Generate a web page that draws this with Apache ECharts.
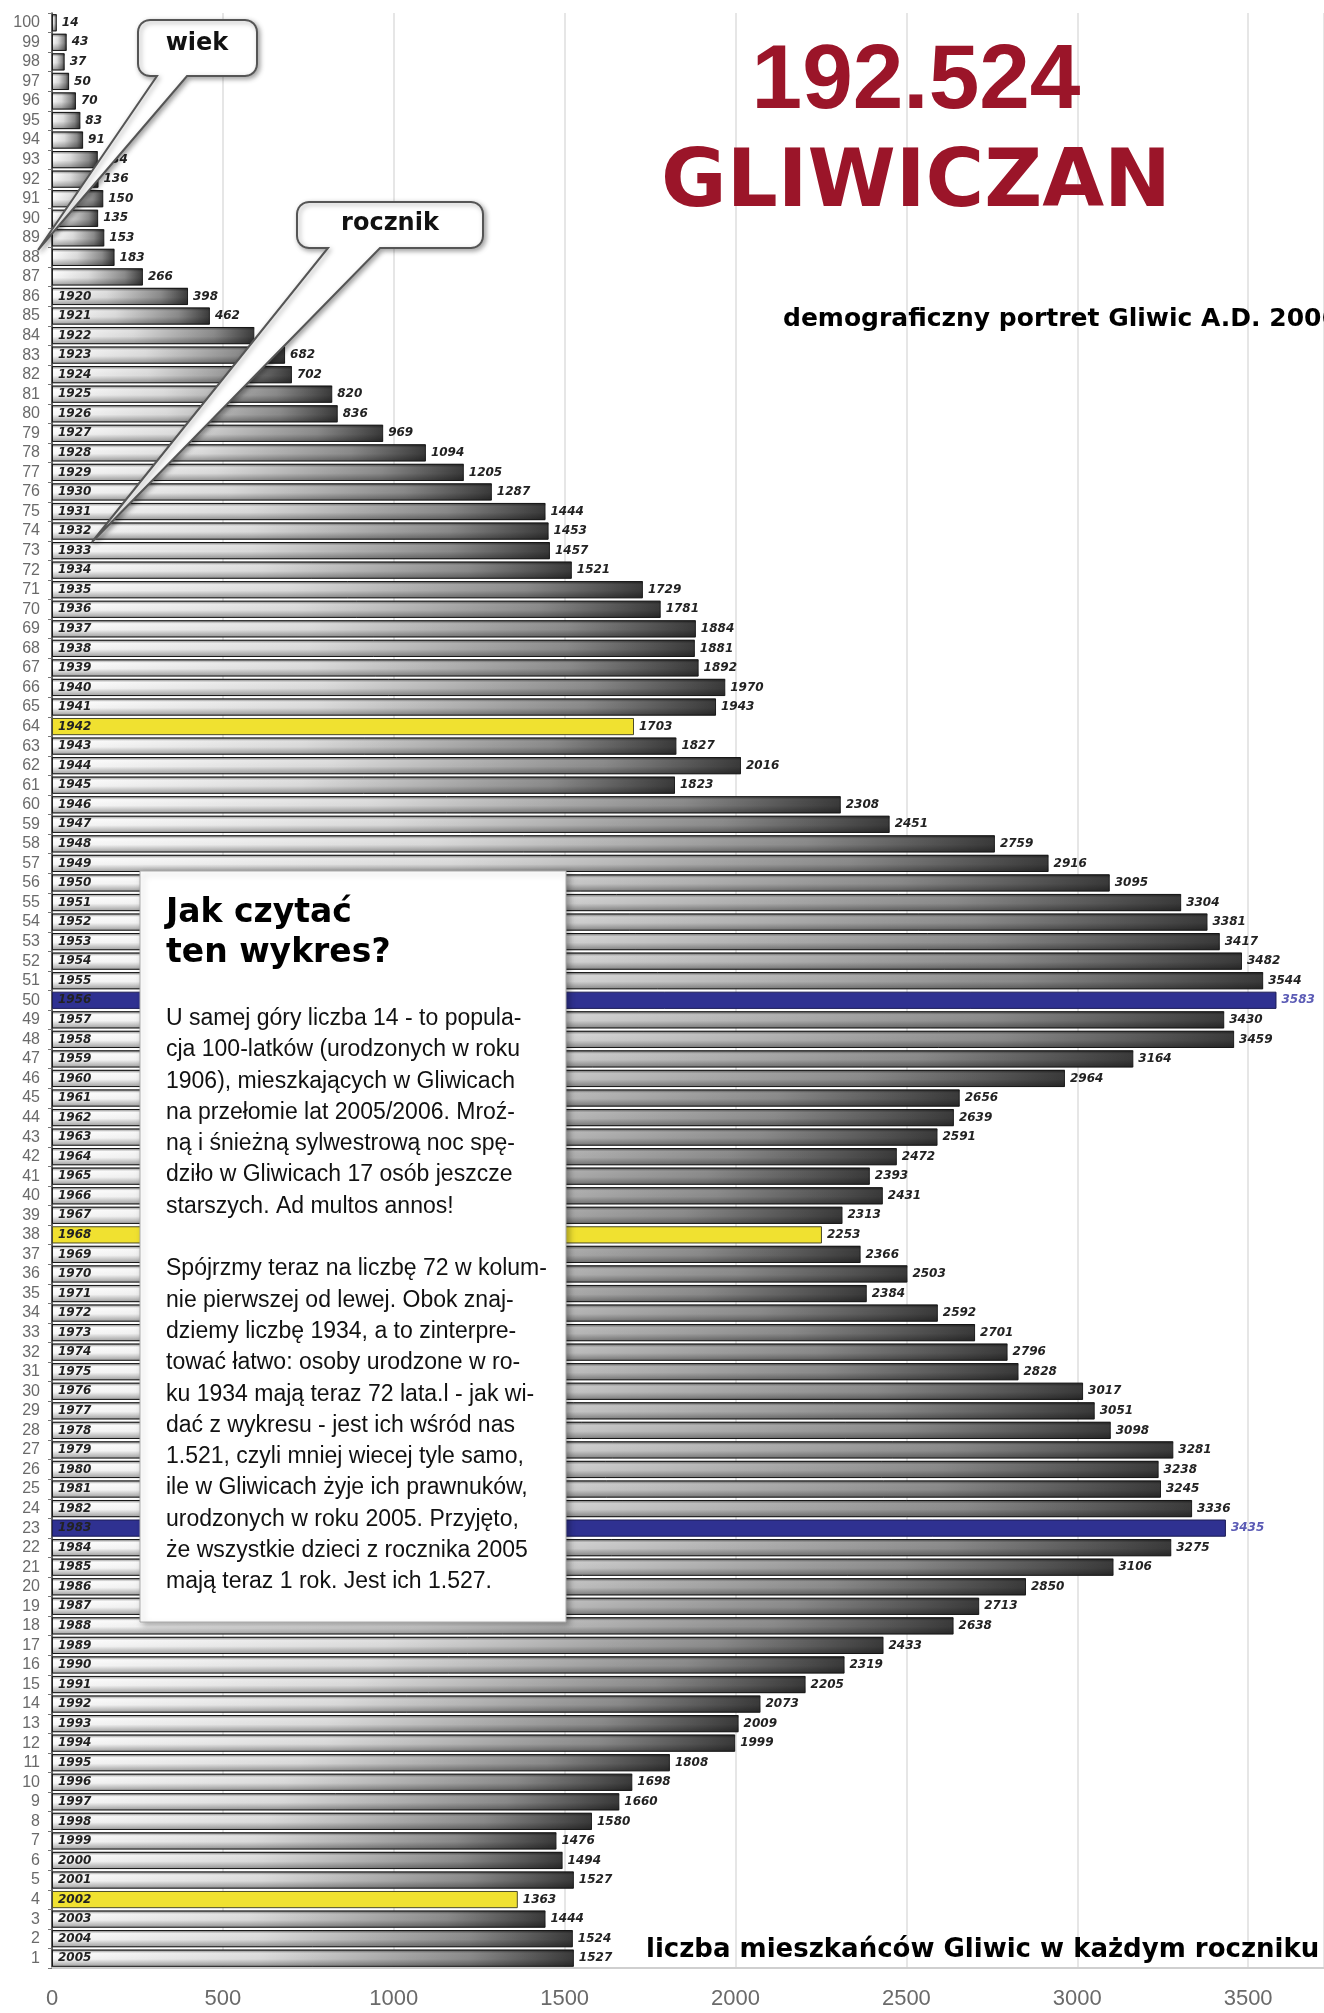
<!DOCTYPE html>
<html><head><meta charset="utf-8">
<script src="https://cdn.jsdelivr.net/npm/echarts@6/dist/echarts.min.js"></script>
<style>html,body{margin:0;padding:0;background:#fff}#c{width:1324px;height:2013px}</style>
</head><body><div id="c"></div>
<script>
// wiek (age) categories, bottom to top
const ages = [1,2,3,4,5,6,7,8,9,10,11,12,13,14,15,16,17,18,19,20,
  21,22,23,24,25,26,27,28,29,30,31,32,33,34,35,36,37,38,39,40,
  41,42,43,44,45,46,47,48,49,50,51,52,53,54,55,56,57,58,59,60,
  61,62,63,64,65,66,67,68,69,70,71,72,73,74,75,76,77,78,79,80,
  81,82,83,84,85,86,87,88,89,90,91,92,93,94,95,96,97,98,99,100];
// liczba mieszkańców w każdym roczniku (by age 1..100)
const values = [1527,1524,1444,1363,1527,1494,1476,1580,1660,1698,
  1808,1999,2009,2073,2205,2319,2433,2638,2713,2850,
  3106,3275,3435,3336,3245,3238,3281,3098,3051,3017,
  2828,2796,2701,2592,2384,2503,2366,2253,2313,2431,
  2393,2472,2591,2639,2656,2964,3164,3459,3430,3583,
  3544,3482,3417,3381,3304,3095,2916,2759,2451,2308,
  1823,2016,1827,1703,1943,1970,1892,1881,1884,1781,
  1729,1521,1457,1453,1444,1287,1205,1094,969,836,
  820,702,682,592,462,398,266,183,153,135,
  150,136,134,91,83,70,50,37,43,14];
// rocznik (birth year) labels shown inside bars
const years = ['2005','2004','2003','2002','2001','2000','1999','1998','1997','1996',
  '1995','1994','1993','1992','1991','1990','1989','1988','1987','1986',
  '1985','1984','1983','1982','1981','1980','1979','1978','1977','1976',
  '1975','1974','1973','1972','1971','1970','1969','1968','1967','1966',
  '1965','1964','1963','1962','1961','1960','1959','1958','1957','1956',
  '1955','1954','1953','1952','1951','1950','1949','1948','1947','1946',
  '1945','1944','1943','1942','1941','1940','1939','1938','1937','1936',
  '1935','1934','1933','1932','1931','1930','1929','1928','1927','1926',
  '1925','1924','1923','1922','1921','1920','','','','',
  '','','','','','','','','',''];
const xTicks = [0,500,1000,1500,2000,2500,3000,3500];
const yellowAges = [4,38,64];
const blueAges = [23,50];

const mainData = values.map((v,i)=>{
  const a = ages[i];
  const it = {value:v};
  if (yellowAges.includes(a)) it.itemStyle = {color:'#f0e130', borderColor:'#4a4a2a'};
  else if (blueAges.includes(a)) { it.itemStyle = {color:'#2f3191', borderColor:'#1c1c55'}; it.label = {color:'#5b5bb5'}; }
  return it;
});
const overlayData = values.map((v,i)=>{
  const a = ages[i];
  const it = {value:v};
  if (yellowAges.includes(a) || blueAges.includes(a)) it.itemStyle = {color:'rgba(0,0,0,0)'};
  return it;
});

function bubblePoints(x0,y0,x1,y1,r,nl,nr,tx,ty){
  const pts=[];
  const arc=(cx,cy,a0,a1)=>{for(let k=0;k<=6;k++){const a=a0+(a1-a0)*k/6;pts.push([cx+r*Math.cos(a),cy+r*Math.sin(a)]);}};
  arc(x0+r,y0+r,Math.PI,1.5*Math.PI);
  arc(x1-r,y0+r,1.5*Math.PI,2*Math.PI);
  arc(x1-r,y1-r,0,0.5*Math.PI);
  pts.push([nr,y1],[tx,ty],[nl,y1]);
  arc(x0+r,y1-r,0.5*Math.PI,Math.PI);
  return pts;
}
function txt(x,y,text,font,fill,align,valign,extra){
  return Object.assign({type:'text',x:x,y:y,z:120,silent:true,style:Object.assign({
    text:text,font:font,fill:fill,textAlign:align,textVerticalAlign:valign,align:align,verticalAlign:valign
  },extra||{})});
}
const bubbleStyle = {fill:'#fff',stroke:'#555',lineWidth:2,shadowBlur:5,shadowColor:'rgba(0,0,0,0.35)',shadowOffsetX:2,shadowOffsetY:2};

const para = 'U samej góry liczba 14 - to popula-\ncja 100-latków (urodzonych w roku\n1906), mieszkających w Gliwicach\nna przełomie lat 2005/2006. Mroź-\nną i śnieżną sylwestrową noc spę-\ndziło w Gliwicach 17 osób jeszcze\nstarszych. Ad multos annos!\n\nSpójrzmy teraz na liczbę 72 w kolum-\nnie pierwszej od lewej. Obok znaj-\ndziemy liczbę 1934, a to zinterpre-\ntować łatwo: osoby urodzone w ro-\nku 1934 mają teraz 72 lata.l - jak wi-\ndać z wykresu - jest ich wśród nas\n1.521, czyli mniej wiecej tyle samo,\nile w Gliwicach żyje ich prawnuków,\nurodzonych w roku 2005. Przyjęto,\nże wszystkie dzieci z rocznika 2005\nmają teraz 1 rok. Jest ich 1.527.';

const chart = echarts.init(document.getElementById('c'), null, {renderer:'canvas'});
chart.setOption({
  backgroundColor:'#ffffff',
  animation:false,
  grid:{left:52,right:0,top:13,bottom:45,containLabel:false},
  xAxis:{type:'value',min:0,max:3722,interval:500,
    axisLine:{show:true,lineStyle:{color:'#cfcfcf',width:2}},
    axisTick:{show:false},
    axisLabel:{color:'#6a6a6a',fontSize:22,margin:20,fontFamily:'Liberation Sans',showMaxLabel:false,
      formatter:v=> xTicks.includes(v) ? String(v) : ''},
    splitLine:{show:true,lineStyle:{color:'#e6e6e6',width:2}}
  },
  yAxis:{type:'category',data:ages,
    axisLine:{show:true,lineStyle:{color:'#333',width:1.5}},
    axisTick:{show:true,length:4,interval:0,lineStyle:{color:'#777'}},
    axisLabel:{interval:0,color:'#6a6a6a',fontSize:16,margin:12,fontFamily:'Liberation Sans'}
  },
  series:[
    {type:'bar',data:mainData,barCategoryGap:'12%',
      itemStyle:{borderColor:'#222',borderWidth:1,
        color:new echarts.graphic.LinearGradient(0,0,1,0,[
          {offset:0,color:'#ffffff'},{offset:0.4,color:'#dedede'},{offset:0.8,color:'#8c8c8c'},{offset:1,color:'#3a3a3a'}])},
      label:{show:true,position:'right',distance:5,color:'#222',fontSize:12,fontWeight:'bold',fontStyle:'italic',fontFamily:'DejaVu Sans'}
    },
    {type:'bar',data:overlayData,barGap:'-100%',barCategoryGap:'12%',silent:true,
      itemStyle:{color:new echarts.graphic.LinearGradient(0,0,0,1,[
          {offset:0,color:'rgba(0,0,0,0.5)'},{offset:0.2,color:'rgba(0,0,0,0)'},{offset:0.55,color:'rgba(0,0,0,0.03)'},{offset:1,color:'rgba(0,0,0,0.38)'}])},
      label:{show:true,position:'insideLeft',distance:6,color:'#222',fontSize:12,fontWeight:'bold',fontStyle:'italic',fontFamily:'DejaVu Sans',
        formatter:p=>years[p.dataIndex]}
    }
  ],
  graphic:[
    txt(916,83,'192.524','bold 91px "Liberation Sans"','#9b1529','center','middle'),
    txt(916,185,'GLIWICZAN','bold 80px "DejaVu Sans"','#9b1529','center','middle'),
    txt(783,319,'demograficzny portret Gliwic A.D. 2006','bold 25px "DejaVu Sans"','#000','left','middle'),
    txt(646,1950,'liczba mieszkańców Gliwic w każdym roczniku','bold 26px "DejaVu Sans"','#000','left','middle'),
    {type:'polygon',z:110,silent:true,shape:{points:bubblePoints(138,20,257,76,12,157,187,38,250)},style:bubbleStyle},
    txt(197,44,'wiek','bold 24px "DejaVu Sans"','#111','center','middle'),
    {type:'polygon',z:110,silent:true,shape:{points:bubblePoints(297,202,483,248,12,328,380,92,542)},style:bubbleStyle},
    txt(390,224,'rocznik','bold 24px "DejaVu Sans"','#111','center','middle'),
    {type:'rect',z:110,silent:true,shape:{x:140,y:871,width:426,height:751},
      style:{fill:'#fff',stroke:'#aaa',lineWidth:1,shadowBlur:6,shadowColor:'rgba(0,0,0,0.3)',shadowOffsetX:3,shadowOffsetY:3}},
    txt(166,893,'Jak czytać\nten wykres?','bold 33px "DejaVu Sans"','#000','left','top',{lineHeight:40}),
    txt(166,1003,para,'23px "Liberation Sans"','#111','left','top',{lineHeight:31.3})
  ]
});
</script>
</body></html>
